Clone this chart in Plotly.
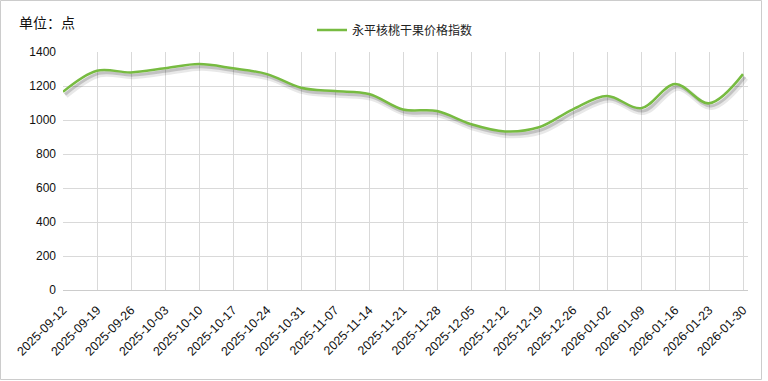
import plotly.graph_objects as go

dates = ["2025-09-12", "2025-09-19", "2025-09-26", "2025-10-03", "2025-10-10", "2025-10-17",
         "2025-10-24", "2025-10-31", "2025-11-07", "2025-11-14", "2025-11-21", "2025-11-28",
         "2025-12-05", "2025-12-12", "2025-12-19", "2025-12-26", "2026-01-02", "2026-01-09",
         "2026-01-16", "2026-01-23", "2026-01-30"]
values = [1166, 1290, 1280, 1304, 1329, 1304, 1270, 1190, 1170, 1153, 1062, 1053,
          976, 933, 957, 1063, 1141, 1069, 1212, 1098, 1270]
series_name = "永平核桃干果价格指数"
y_ticks = [0, 200, 400, 600, 800, 1000, 1200, 1400]

idx = list(range(len(dates)))

# plot area geometry (pixels)
W, H = 768, 381
L, R, T, B = 63, 20, 52, 91
pw, ph = W - L - R, H - T - B

def px_x(p):
    return (p - L) / pw

def px_y(p):
    return (H - B - p) / ph

fig = go.Figure()
# soft shadow under the line
fig.add_trace(go.Scatter(
    x=[i + 0.08 for i in idx], y=[v - 22 for v in values], mode="lines",
    line=dict(color="rgba(0,0,0,0.09)", width=6, shape="spline", smoothing=1),
    showlegend=False, hoverinfo="skip"))
fig.add_trace(go.Scatter(
    x=[i + 0.06 for i in idx], y=[v - 16 for v in values], mode="lines",
    line=dict(color="rgba(0,0,0,0.16)", width=3, shape="spline", smoothing=1),
    showlegend=False, hoverinfo="skip"))
fig.add_trace(go.Scatter(
    x=idx, y=values, mode="lines", name=series_name,
    line=dict(color="#77bb41", width=2.5, shape="spline", smoothing=1)))

fig.update_layout(
    width=W, height=H,
    margin=dict(l=L, r=R, t=T, b=B),
    paper_bgcolor="white", plot_bgcolor="white",
    font=dict(family="Liberation Sans, Noto Sans CJK SC, sans-serif", size=12, color="#222"),
    legend=dict(orientation="h", x=px_x(312), xanchor="left", y=px_y(30), yanchor="middle",
                font=dict(family="Noto Sans CJK SC, sans-serif", size=12, color="#222"),
                itemwidth=30, bgcolor="rgba(0,0,0,0)"),
    xaxis=dict(range=[0, 20 + 5 / 34], tickmode="array", tickvals=idx, ticktext=dates,
               tickangle=-45, showgrid=True, gridcolor="#d9d9d9", gridwidth=1,
               showline=True, linecolor="#cccccc", linewidth=1, ticks="",
               ticklabelstandoff=7,
               zeroline=False, tickfont=dict(size=12.5, color="#111")),
    yaxis=dict(range=[0, 1400], tickmode="array", tickvals=y_ticks,
               showgrid=True, gridcolor="#d9d9d9", gridwidth=1, zeroline=False,
               showline=False, ticks="", ticklabelstandoff=6,
               tickfont=dict(size=12, color="#111")),
    shapes=[dict(type="rect", xref="paper", yref="paper",
                 x0=px_x(0.5), x1=px_x(761.5), y0=px_y(379.5), y1=px_y(0.5),
                 line=dict(color="#cccccc", width=1), fillcolor="rgba(0,0,0,0)", layer="below")],
    annotations=[dict(text="单位：点", xref="paper", yref="paper", x=px_x(17), y=px_y(22),
                      xanchor="left", yanchor="middle", showarrow=False,
                      font=dict(family="Noto Sans CJK SC, sans-serif", size=14, color="#111"))],
)

fig.write_html("out.html", config={"displayModeBar": False},
               post_script="document.body.style.margin='0';document.body.style.overflow='hidden';")
